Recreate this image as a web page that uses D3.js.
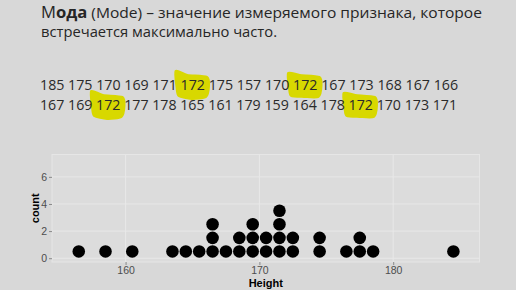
<!DOCTYPE html>
<html>
<head>
<meta charset="utf-8">
<script src="https://cdn.jsdelivr.net/npm/d3@7"></script>
<style>
  html, body { margin: 0; padding: 0; background: #d8d8d8; }
  svg { display: block; }
</style>
</head>
<body>
<div id="chart"></div>
<script>
// data
const heightsRow1 = [185, 175, 170, 169, 171, 172, 175, 157, 170, 172, 167, 173, 168, 167, 166]
const heightsRow2 = [167, 169, 172, 177, 178, 165, 161, 179, 159, 164, 178, 172, 170, 173, 171]
const heights = heightsRow1.concat(heightsRow2)
const modeValue = 172
const xTicks = [160, 170, 180]
const yTicks = [0, 2, 4, 6]
const binWidth = 1

const W = 516, H = 290
const svg = d3.select("#chart").append("svg")
    .attr("width", W)
    .attr("height", H)

svg.append("rect").attr("width", W).attr("height", H).attr("fill", "#d8d8d8")

// ---- title ----
const textFont = "'Open Sans', 'Noto Sans', sans-serif"
const title1 = svg.append("text")
    .attr("x", 41).attr("y", 17.5)
    .attr("font-family", textFont)
    .attr("fill", "#262626")
title1.append("tspan").attr("font-size", 16).attr("font-weight", "normal").text("М")
title1.append("tspan").attr("font-size", 16).attr("font-weight", "bold").text("ода")
title1.append("tspan").attr("font-size", 15).text(" (Mode) – значение измеряемого признака, которое")
title1.attr("textLength", 441).attr("lengthAdjust", "spacingAndGlyphs")

svg.append("text")
    .attr("x", 41).attr("y", 37)
    .attr("font-family", textFont)
    .attr("font-size", 15)
    .attr("fill", "#262626")
    .attr("textLength", 236)
    .attr("lengthAdjust", "spacingAndGlyphs")
    .text("встречается максимально часто.")

// ---- number rows with highlighted mode ----
const hlLayer = svg.append("g")
const numLayer = svg.append("g")

function textWidth(s, size) {
    const t = numLayer.append("text").attr("font-family", textFont).attr("font-size", size).text(s)
    const w = t.node().getComputedTextLength()
    t.remove()
    return w
}

function drawRow(values, x0, baseline, targetWidth) {
    const base = 16
    const k = targetWidth / textWidth(values.join(" "), base)
    const space = textWidth("0 0", base) - textWidth("00", base)
    let x = x0
    values.forEach(v => {
        const w = textWidth(String(v), base) * k
        if (v === modeValue) drawHighlight(x, baseline, w, base * k)
        numLayer.append("text")
            .attr("x", x).attr("y", baseline)
            .attr("font-family", textFont)
            .attr("font-size", base * k)
            .attr("fill", "#2a2a2a")
            .text(v)
        x += w + space * k
    })
}

let hlIndex = 0
function drawHighlight(x, baseline, w, fs) {
    const top = baseline - fs * 0.95, bot = baseline + fs * 0.45
    const left = x - 3, right = x + w + 2
    const j = hlIndex++ % 2 ? 1 : -1
    const pts = [
        [left - 2, top - 4 + j], [left + w * 0.4, top - 1], [right, top + 1],
        [right + 2, (top + bot) / 2], [right - 1, bot + 1], [x + w * 0.45, bot + 2 - j],
        [left + 1, bot], [left - 1, (top + bot) / 2 + 2]
    ]
    hlLayer.append("path")
        .attr("d", d3.line().curve(d3.curveCardinalClosed.tension(0.3))(pts))
        .attr("fill", "#d8d800")
        .attr("stroke", "#d8d800")
        .attr("stroke-width", 2)
}

drawRow(heightsRow1, 40, 89.5, 418)
drawRow(heightsRow2, 40, 109.5, 417)

// ---- dot plot ----
const panel = {left: 52, right: 479.5, top: 154.5, bottom: 262}

const x = d3.scaleLinear()
    .domain([154.5, 186.45])
    .range([panel.left, panel.right])

const y = d3.scaleLinear()
    .domain([-0.28, 7.65])
    .range([panel.bottom, panel.top])

// bins of width 1, centred half a unit below each value
const counts = d3.rollup(heights, v => v.length, d => d)
const dots = []
counts.forEach((n, h) => {
    for (let i = 0; i < n; i++) dots.push({center: h - binWidth / 2, stack: i})
})

svg.append("rect")
    .attr("x", panel.left).attr("y", panel.top)
    .attr("width", panel.right - panel.left)
    .attr("height", panel.bottom - panel.top)
    .attr("fill", "#dcdcdc")
    .attr("stroke", "#e6e6e6")
    .attr("stroke-width", 1)

const grid = svg.append("g")
grid.selectAll(".gx")
    .data(xTicks)
    .join("line")
    .attr("x1", d => x(d)).attr("x2", d => x(d))
    .attr("y1", panel.top).attr("y2", panel.bottom)
    .attr("stroke", "#e8e8e8")
grid.selectAll(".gy")
    .data(yTicks)
    .join("line")
    .attr("x1", panel.left).attr("x2", panel.right)
    .attr("y1", d => y(d)).attr("y2", d => y(d))
    .attr("stroke", "#e8e8e8")

const xAxis = d3.axisBottom(x).tickValues(xTicks).tickSize(3).tickPadding(2)
const yAxis = d3.axisLeft(y).tickValues(yTicks).tickSize(3).tickPadding(2)

const xAxisGroup = svg.append("g")
    .attr("transform", `translate(0, ${panel.bottom})`)
    .call(xAxis)
const yAxisGroup = svg.append("g")
    .attr("transform", `translate(${panel.left}, 0)`)
    .call(yAxis)

;[xAxisGroup, yAxisGroup].forEach(g => {
    g.select(".domain").remove()
    g.selectAll(".tick line").attr("stroke", "#8a8a8a")
    g.selectAll(".tick text")
        .attr("font-family", "'Liberation Sans', Arial, sans-serif")
        .attr("font-size", 10.5)
        .attr("fill", "#4d4d4d")
})

const r = (x(binWidth) - x(0)) * 0.47
svg.append("g")
    .selectAll("circle")
    .data(dots)
    .join("circle")
    .attr("cx", d => x(d.center))
    .attr("cy", d => y(d.stack + 0.5))
    .attr("r", r)
    .attr("fill", "black")

svg.append("text")
    .attr("x", (panel.left + panel.right) / 2)
    .attr("y", 287)
    .attr("text-anchor", "middle")
    .attr("font-family", "'Liberation Sans', Arial, sans-serif")
    .attr("font-size", 11)
    .attr("font-weight", "bold")
    .attr("fill", "black")
    .text("Height")

svg.append("text")
    .attr("transform", `translate(39, ${(panel.top + panel.bottom) / 2 + 0}) rotate(-90)`)
    .attr("text-anchor", "middle")
    .attr("font-family", "'Liberation Sans', Arial, sans-serif")
    .attr("font-size", 11)
    .attr("font-weight", "bold")
    .attr("fill", "black")
    .text("count")
</script>
</body>
</html>
